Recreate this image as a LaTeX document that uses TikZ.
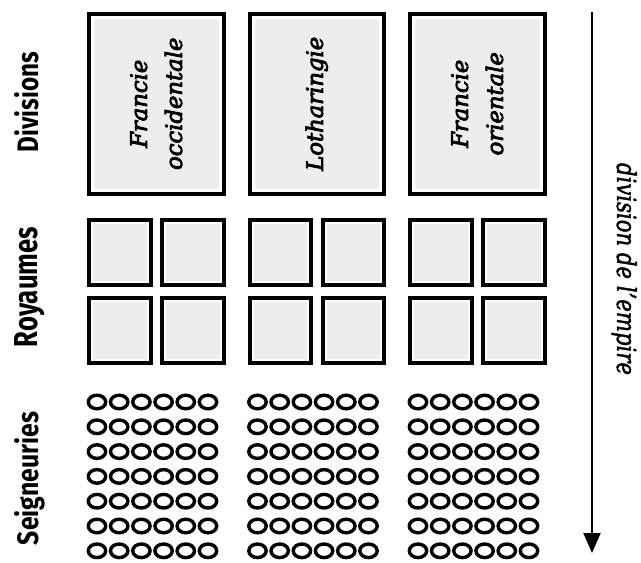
\documentclass[tikz,border=0pt]{standalone}
\usepackage{fontspec}
\setmainfont{DejaVu Serif}
\font\boxit="DejaVu Serif/I:embolden=3.5" at 22.7pt
\font\empit="DejaVu Serif/I:embolden=1.8" at 20pt
\newfontfamily\labfont{Fira Sans}
\usetikzlibrary{arrows.meta,calc}
\definecolor{boxgray}{HTML}{EDEDED}
\begin{document}
\begin{tikzpicture}[x=1pt,y=-1pt,
  outerbox/.style={draw=black, line width=4pt, fill=white, inner sep=0pt, rectangle},
  bigbox/.style={outerbox, minimum width=134.5pt, minimum height=180.5pt},
  smallbox/.style={outerbox, minimum width=61.5pt, minimum height=65pt},
  boxlabel/.style={font={\fontsize{22.7}{35}\selectfont\boxit}, align=center, rotate=90, inner sep=0pt},
  rowlabel/.style={rotate=90, anchor=base, inner sep=0pt, font=\labfont\bfseries},
  seign/.style={line width=3.4pt},
  axis/.style={line width=2pt, -{Triangle[length=20pt,width=17pt]}}]
\useasboundingbox (0,0) rectangle (641,563);
% columns
\foreach \L/\n in {87/1,247.5/2,408/3}{
  \node[bigbox] (d\n) at (\L+69.25,103.75) {};
  \fill[boxgray] ($(d\n.south west)+(7,-7)$) rectangle ($(d\n.north east)+(-7,7)$);
  \foreach \dx/\c in {32.75/a,105.75/b}{
    \foreach \yy/\r in {252.5/1,330.5/2}{
      \node[smallbox] (r\n\c\r) at (\L+\dx,\yy) {};
      \fill[boxgray] ($(r\n\c\r.south west)+(6,-6)$) rectangle ($(r\n\c\r.north east)+(-6,6)$);
    }
  }
  \foreach \i in {0,...,5}{
    \foreach \j in {0,...,6}{
      \draw[seign] (\L+10+22.2*\i,402+24.8*\j) ellipse [x radius=8.7pt, y radius=6.8pt];
    }
  }
}
\node[boxlabel] (t1) at (d1.center) {Francie\\occidentale};
\node[boxlabel] (t2) at (d2.center) {Lotharingie};
\node[boxlabel] (t3) at (d3.center) {Francie\\orientale};
% row labels
\node[rowlabel] (ldiv) at (38,102) {\resizebox{100pt}{24pt}{Divisions}};
\node[rowlabel] (lroy) at (37,287) {\resizebox{120pt}{23pt}{Royaumes}};
\node[rowlabel] (lsei) at (38,478.5) {\resizebox{133pt}{24pt}{Seigneuries}};
% axis
\coordinate (atop) at (592,12);
\coordinate (abot) at (592,553);
\draw[axis] (atop) -- (abot);
\node[rotate=-90, anchor=base, inner sep=0pt] (lemp) at (617,269) {\resizebox{212pt}{20pt}{\empit division de l’empire}};
\end{tikzpicture}
\end{document}
